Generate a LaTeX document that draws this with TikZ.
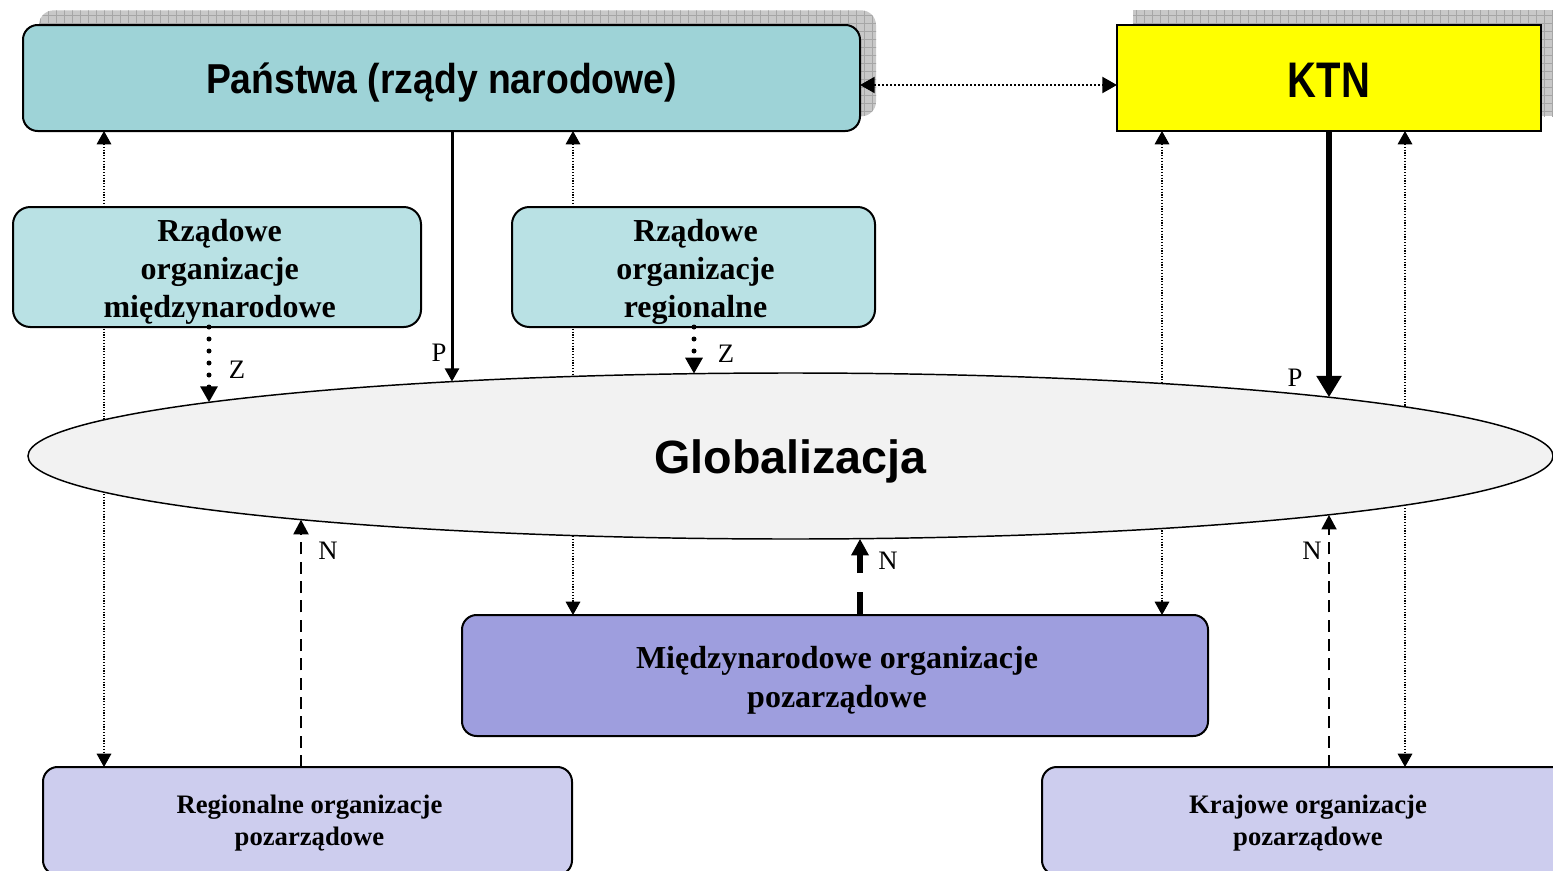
\documentclass[tikz,border=0pt]{standalone}
\usepackage{fontspec}
\setmainfont{Liberation Serif}
\newfontfamily\sansfam{Liberation Sans}
\usetikzlibrary{arrows.meta,shapes.geometric,patterns.meta,backgrounds}
\definecolor{tealA}{HTML}{9ED3D7}
\definecolor{tealB}{HTML}{B9E1E4}
\definecolor{violA}{HTML}{9E9EDE}
\definecolor{violB}{HTML}{CDCDEE}
\definecolor{globfill}{HTML}{F2F2F2}
\definecolor{ktnyellow}{HTML}{FFFF00}
\definecolor{shadowgray}{HTML}{C8C8C8}
\definecolor{shadowline}{HTML}{A6A6A6}
\newcommand{\pxu}{0.75pt}
\tikzset{
  every node/.style={inner sep=0pt, outer sep=0pt},
  rbox/.style={draw=black, line width=1.5pt, rounded corners=11pt, align=center},
  sbox/.style={draw=black, line width=1.5pt, align=center},
  titlefont/.style={font=\sansfam\bfseries\fontsize{28}{32}\selectfont},
  bigser/.style={font=\bfseries\fontsize{24}{28.5}\selectfont, align=center},
  midser/.style={font=\bfseries\fontsize{24}{29}\selectfont, align=center},
  smallser/.style={font=\bfseries\fontsize{20}{24}\selectfont, align=center},
  lab/.style={font=\fontsize{20}{23}\selectfont},
  shad/.style={fill=shadowgray,
    postaction={pattern={Lines[angle=0,distance=6pt,line width=0.5pt]}, pattern color=shadowline},
    postaction={pattern={Lines[angle=90,distance=6pt,line width=0.5pt]}, pattern color=shadowline}},
  thindot/.style={line width=0.8pt, dash pattern=on 0.8pt off 1.3pt},
  ttip/.style={{Triangle[length=10pt,width=11pt]}-{Triangle[length=10pt,width=11pt]}},
}
\begin{document}
\begin{tikzpicture}[x=0.75pt,y=-0.75pt]
\useasboundingbox (0,0) rectangle (1553,871);
\clip (0,0) rectangle (1553,871);

% reference x positions of vertical connectors
\coordinate (cA) at (104,0);
\coordinate (cB) at (209,0);
\coordinate (cC) at (301,0);
\coordinate (cD) at (452,0);
\coordinate (cE) at (573,0);
\coordinate (cF) at (694,0);
\coordinate (cG) at (860,0);
\coordinate (cH) at (1162,0);
\coordinate (cI) at (1329,0);
\coordinate (cJ) at (1405,0);
\coordinate (lvl) at (0,85);

% nodes
\node[rbox, fill=tealA, minimum width={837*\pxu}, minimum height={106*\pxu},
  label={[titlefont, yshift=-3.5pt]center:\scalebox{1}[1.12]{Państwa (rządy narodowe)}}] (panstwa) at (441.5,78) {};
\node[sbox, fill=ktnyellow, minimum width={424*\pxu}, minimum height={106*\pxu},
  label={[font=\sansfam\bfseries\fontsize{30}{34}\selectfont, yshift=-1.5pt]center:\scalebox{1}[1.25]{KTN}}] (ktn) at (1329,78) {};
\node[rbox, rounded corners=13pt, fill=tealB, minimum width={408*\pxu}, minimum height={120*\pxu},
  label={[bigser, yshift=-3.5pt, xshift=2pt]center:Rządowe\\organizacje\\międzynarodowe}] (rzint) at (217,267) {};
\node[rbox, rounded corners=13pt, fill=tealB, minimum width={363*\pxu}, minimum height={120*\pxu},
  label={[bigser, yshift=-3.5pt, xshift=1.5pt]center:Rządowe\\organizacje\\regionalne}] (rzreg) at (693.5,267) {};
\node[ellipse, draw=black, line width=1.1pt, fill=globfill, minimum width={1525*\pxu}, minimum height={166*\pxu},
  label={[font=\sansfam\bfseries\fontsize{35}{40}\selectfont, yshift=-4pt]center:Globalizacja}] (glob) at (790.5,456) {};
\node[rbox, fill=violA, minimum width={746*\pxu}, minimum height={121*\pxu},
  label={[midser, yshift=-3.5pt, xshift=1.5pt]center:Międzynarodowe organizacje\\pozarządowe}] (mnop) at (835,675.5) {};
\node[rbox, fill=violB, minimum width={529*\pxu}, minimum height={108*\pxu},
  label={[smallser, yshift=-1.5pt, xshift=1.5pt]center:Regionalne organizacje\\pozarządowe}] (regop) at (307.5,821) {};
\node[rbox, fill=violB, minimum width={532*\pxu}, minimum height={108*\pxu},
  label={[smallser, yshift=-1.5pt]center:Krajowe organizacje\\pozarządowe}] (krop) at (1308,821) {};

% points on the ellipse border
\coordinate (eZ1) at (209,402.3);
\coordinate (eP1) at (452,381.6);
\coordinate (eZ2) at (694,373.7);
\coordinate (eP2) at (1329,397.2);
\coordinate (eN1) at (301,519.6);
\coordinate (eN2) at (860,538.7);
\coordinate (eN3) at (1329,514.8);

% background: shadows and thin dotted links
\begin{scope}[on background layer]
  \path[shad, rounded corners=11pt] ([xshift=12pt,yshift=11pt]panstwa.south west) rectangle ([xshift=12pt,yshift=11pt]panstwa.north east);
  \path[shad] ([xshift=12pt,yshift=11pt]ktn.south west) rectangle ([xshift=12pt,yshift=11pt]ktn.north east);
  \draw[thindot, ttip] (panstwa.south -| cA) -- (regop.north -| cA);
  \draw[thindot, ttip] (panstwa.south -| cE) -- (mnop.north -| cE);
  \draw[thindot, ttip] (ktn.south -| cH) -- (mnop.north -| cH);
  \draw[thindot, ttip] (ktn.south -| cJ) -- (krop.north -| cJ);
\end{scope}

% Panstwa <-> KTN
\draw[line width=1.6pt, dash pattern=on 1.5pt off 1.5pt, {Triangle[length=11pt,width=12pt]}-{Triangle[length=11pt,width=12pt]}] (panstwa.east |- lvl) -- (ktn.west |- lvl);

% P arrows
\draw[line width=2.25pt, -{Triangle[length=10pt,width=10.5pt]}] (panstwa.south -| cD) -- (eP1);
\draw[line width=4.5pt, -{Triangle[length=16pt,width=18pt]}] (ktn.south -| cI) -- (eP2);

% Z arrows
\draw[line width=3.75pt, line cap=round, dash pattern=on 0pt off 9pt, -{Triangle[length=12pt,width=12.5pt]}] (rzint.south -| cB) -- (eZ1);
\draw[line width=3.75pt, line cap=round, dash pattern=on 0pt off 9pt, -{Triangle[length=12pt,width=12.5pt]}] (rzreg.south -| cF) -- (eZ2);

% N arrows
\draw[line width=2.2pt, dash pattern=on 9pt off 5.5pt, -{Triangle[length=11pt,width=11pt]}] (regop.north -| cC) -- (eN1);
\draw[line width=4pt, dash pattern=on 17.5pt off 14pt, -{Triangle[length=12.5pt,width=12.5pt]}] (mnop.north -| cG) -- (eN2);
\draw[line width=2.2pt, dash pattern=on 9pt off 5.5pt, -{Triangle[length=11pt,width=11pt]}] (krop.north -| cI) -- (eN3);

% labels
\node[lab] (lZ1) at (237,370) {Z};
\node[lab] (lZ2) at (726,354) {Z};
\node[lab] (lP1) at (439,353) {P};
\node[lab] (lP2) at (1295,378) {P};
\node[lab] (lN1) at (328,551) {N};
\node[lab] (lN2) at (888,561) {N};
\node[lab] (lN3) at (1312,551) {N};
\end{tikzpicture}
\end{document}
